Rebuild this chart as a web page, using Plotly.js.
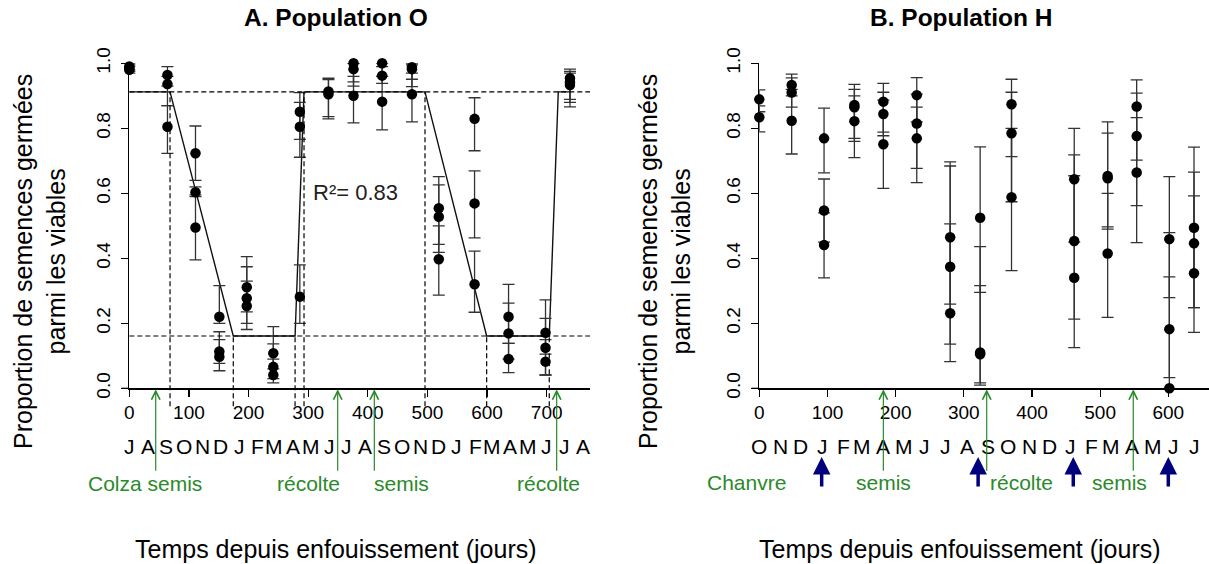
<!DOCTYPE html>
<html>
<head>
<meta charset="utf-8">
<script src="https://cdn.plot.ly/plotly-3.0.1.min.js"></script>
<style>html,body{margin:0;padding:0;background:#fff;}#chart{width:1209px;height:564px;}</style>
</head>
<body>
<div id="chart"></div>
<script>
// ---------- Panel A : Population O ----------
const xO  = [0,0,0, 64,64,64, 111,111,111, 151,151,151, 197,197,197, 241.5,241.5,241.5, 286,286,286, 334,334, 376,376,376, 424,424,424, 474,474,474, 519,519,519, 579,579,579, 636,636,636, 698,698,698, 739,739,739];
const yO  = [0.99,0.985,0.98, 0.964,0.936,0.805, 0.723,0.603,0.495, 0.22,0.113,0.097, 0.311,0.277,0.253, 0.108,0.066,0.041, 0.851,0.805,0.282, 0.913,0.905, 1.0,0.982,0.9, 1.0,0.962,0.882, 0.988,0.982,0.905, 0.554,0.528,0.397, 0.829,0.569,0.32, 0.22,0.169,0.09, 0.171,0.125,0.082, 0.954,0.942,0.933];
const hiO = [1.0,0.995,0.99, 0.99,0.96,0.87, 0.807,0.62,0.595, 0.316,0.174,0.15, 0.405,0.374,0.33, 0.19,0.137,0.09, 0.91,0.88,0.38, 0.954,0.95, 1.0,1.0,0.96, 1.0,0.99,0.96, 1.0,0.995,0.97, 0.651,0.626,0.5, 0.894,0.669,0.422, 0.32,0.262,0.138, 0.272,0.215,0.15, 0.982,0.975,0.97];
const loO = [0.98,0.975,0.97, 0.93,0.87,0.723, 0.64,0.59,0.395, 0.2,0.077,0.054, 0.235,0.2,0.181, 0.06,0.03,0.017, 0.766,0.711,0.2, 0.836,0.829, 0.943,0.93,0.817, 0.96,0.938,0.795, 0.951,0.928,0.82, 0.443,0.418,0.287, 0.731,0.463,0.234, 0.138,0.09,0.048, 0.105,0.041,0.041, 0.889,0.866,0.88];
// fitted piecewise model
const fitX = [0, 68.3, 174.4, 278, 293, 495.9, 599.3, 704.3, 719.4, 739];
const fitY = [0.912, 0.912, 0.161, 0.161, 0.912, 0.912, 0.161, 0.161, 0.912, 0.912];
const levels = [0.912, 0.161];
const breakX = [68.3, 174.4, 278, 293, 495.9, 599.3, 704.3];
const breakY = [0.912, 0.161, 0.161, 0.912, 0.912, 0.161, 0.161];
const monthsO = ["J","A","S","O","N","D","J","F","M","A","M","J","J","A","S","O","N","D","J","F","M","A","M","J","J","A"];
const monthPosO = [0,31,62,92,123,153,184,215,243,274,304,335,365,396,427,457,488,518,549,580,608,639,669,700,730,761];
const eventsOx = [44.3, 349.5, 410.9, 716.7];
const eventLabelsO = ["Colza semis","récolte","semis","récolte"];
const eventLabelPxO = [145, 308, 401, 548];

// ---------- Panel B : Population H ----------
const xH  = [0,0, 47.5,47.5,47.5, 95,95,95, 139.5,139.5,139.5, 182,182,182, 231,231,231, 280,280,280, 324,324,324, 370,370,370, 462,462,462, 511,511,511, 553.6,553.6,553.6, 601.5,601.5,601.5, 637.7,637.7,637.7];
const yH  = [0.889,0.834, 0.933,0.91,0.823, 0.769,0.547,0.441, 0.872,0.865,0.822, 0.882,0.844,0.751, 0.902,0.815,0.769, 0.465,0.374,0.231, 0.525,0.11,0.105, 0.874,0.785,0.588, 0.643,0.453,0.34, 0.653,0.646,0.415, 0.867,0.776,0.664, 0.459,0.182,0.0, 0.494,0.446,0.354];
const hiH = [0.918,0.869, 0.967,0.955,0.92, 0.862,0.644,0.54, 0.935,0.92,0.9, 0.938,0.911,0.887, 0.956,0.865,0.905, 0.697,0.684,0.506, 0.743,0.436,0.316, 0.951,0.911,0.8, 0.8,0.718,0.654, 0.82,0.785,0.6, 0.949,0.908,0.833, 0.651,0.479,0.343, 0.742,0.665,0.592];
const loH = [0.851,0.789, 0.9,0.865,0.721, 0.663,0.45,0.34, 0.769,0.76,0.71, 0.788,0.777,0.615, 0.82,0.677,0.633, 0.259,0.136,0.082, 0.295,0.017,0.01, 0.713,0.574,0.362, 0.45,0.213,0.125, 0.497,0.49,0.218, 0.702,0.562,0.448, 0.279,0.033,0.0, 0.248,0.248,0.172];
const monthsH = ["O","N","D","J","F","M","A","M","J","J","A","S","O","N","D","J","F","M","A","M","J","J"];
const monthPosH = [0,31,61,92,123,151,182,212,243,273,304,335,365,396,426,457,488,516,547,577,608,638];
const greenHx = [182, 333.6, 548.6];
const blueHx = [91.5, 321, 460.6, 600];
const eventLabelsH = ["Chanvre","semis","récolte","semis"];
const eventLabelPxH = [746, 883, 1021, 1119.5];

const yTicks = [0,0.2,0.4,0.6,0.8,1.0];
const yTickText = ["0.0","0.2","0.4","0.6","0.8","1.0"];
const xTicksO = [0,100,200,300,400,500,600,700];
const xTicksH = [0,100,200,300,400,500,600];

// ---------- layout geometry ----------
const W = 1209, H = 564;
const FONT = "Liberation Sans, Arial, sans-serif";
const green = "#2a8a2a", navy = "#00007f";
const py = p => 1 - p / H;   // pixel row -> paper y
const px = p => p / W;       // pixel col -> paper x

function errTrace(x, y, hi, lo, xa, ya) {
  return {
    x: x, y: y, xaxis: xa, yaxis: ya, type: 'scatter', mode: 'markers',
    marker: {color: '#000', size: 10.5},
    cliponaxis: false,
    error_y: {type: 'data', symmetric: false,
      array: hi.map((h, i) => h - y[i]),
      arrayminus: lo.map((l, i) => y[i] - l),
      color: '#333', thickness: 1.3, width: 6},
    hoverinfo: 'x+y', showlegend: false
  };
}

const traces = [
  {x: fitX, y: fitY, xaxis: 'x', yaxis: 'y', type: 'scatter', mode: 'lines',
   line: {color: '#111', width: 1.4}, showlegend: false, hoverinfo: 'skip'},
  errTrace(xO, yO, hiO, loO, 'x', 'y'),
  errTrace(xH, yH, hiH, loH, 'x2', 'y2')
];

const shapes = [];
levels.forEach(v => shapes.push({type: 'line', xref: 'x domain', yref: 'y', x0: 0, x1: 1, y0: v, y1: v,
  line: {color: '#000', width: 1.2, dash: '5px,3px'}}));
breakX.forEach((b, i) => shapes.push({type: 'line', xref: 'x', yref: 'y domain', x0: b, x1: b, y0: -0.055, y1: breakY[i],
  line: {color: '#000', width: 1.2, dash: '5px,3px'}}));
// small axis-line extensions left of the y axis (R-style box)
[['x domain','y domain'],['x2 domain','y2 domain']].forEach(r => shapes.push({type:'line', xref:r[0], yref:r[1],
  x0: -0.017, x1: 0, y0: 0, y1: 0, line:{color:'#000', width:1.2}}));

const ann = [];
const baseFont = {family: FONT, color: '#000'};
function paperText(t, x, y, size, extra) {
  return Object.assign({text: t, xref: 'paper', yref: 'paper', x: px(x), y: py(y), xanchor: 'center', yanchor: 'middle',
    showarrow: false, font: Object.assign({}, baseFont, {size: size})}, extra || {});
}
ann.push(paperText('<b>A. Population O</b>', 336, 18, 24.5));
ann.push(paperText('<b>B. Population H</b>', 961, 18, 24.5));
ann.push(paperText('Temps depuis enfouissement (jours)', 336, 549, 25));
ann.push(paperText('Temps depuis enfouissement (jours)', 960, 549, 25));
ann.push(paperText('Proportion de semences germées<br>parmi les viables', 39, 262, 25, {textangle: -90}));
ann.push(paperText('Proportion de semences germées<br>parmi les viables', 664, 262, 25, {textangle: -90}));
ann.push({text: 'R²= 0.83', xref: 'x', yref: 'y', x: 380, y: 0.601, xanchor: 'center', yanchor: 'middle', showarrow: false,
  font: {family: FONT, color: '#222', size: 22}});

monthsO.forEach((m, i) => ann.push({text: m, xref: 'x', yref: 'paper', x: monthPosO[i], y: py(446),
  xanchor: 'center', yanchor: 'middle', showarrow: false, font: Object.assign({}, baseFont, {size: 21})}));
monthsH.forEach((m, i) => ann.push({text: m, xref: 'x2', yref: 'paper', x: monthPosH[i], y: py(446),
  xanchor: 'center', yanchor: 'middle', showarrow: false, font: Object.assign({}, baseFont, {size: 21})}));

eventLabelsO.forEach((t, i) => ann.push(paperText(t, eventLabelPxO[i], 483, 21, {font: {family: FONT, color: green, size: 21}})));
eventLabelsH.forEach((t, i) => ann.push(paperText(t, eventLabelPxH[i], 482, 21, {font: {family: FONT, color: green, size: 21}})));

function greenArrow(xv, xr, yr) {
  return {text: '', xref: xr, yref: yr, x: xv, y: 0, ax: 0, ay: 84, showarrow: true,
    arrowhead: 5, arrowsize: 1.4, arrowwidth: 1.2, arrowcolor: green, standoff: 1};
}
eventsOx.forEach(v => ann.push(greenArrow(v, 'x', 'y')));
greenHx.forEach(v => ann.push(greenArrow(v, 'x2', 'y2')));
blueHx.forEach(v => ann.push({text: '', xref: 'x2', yref: 'paper', x: v, y: py(457), ax: 0, ay: 31, showarrow: true,
  arrowhead: 2, arrowsize: 1, arrowwidth: 3.5, arrowcolor: navy}));

const axisCommon = {showgrid: false, zeroline: false, showline: true, linecolor: '#000', linewidth: 1.2,
  ticks: 'outside', ticklen: 7, tickwidth: 1.2, tickcolor: '#000', fixedrange: true,
  tickfont: {family: FONT, size: 19, color: '#000'}};
const yDom = [py(388.3), py(63.3)];

const layout = {
  width: W, height: H, margin: {l: 0, r: 0, t: 0, b: 0},
  paper_bgcolor: '#fff', plot_bgcolor: 'rgba(0,0,0,0)', showlegend: false,
  xaxis: Object.assign({}, axisCommon, {domain: [px(129.3), px(590)], range: [0, 772.6], anchor: 'y',
    tickmode: 'array', tickvals: xTicksO, ticktext: xTicksO.map(String)}),
  yaxis: Object.assign({}, axisCommon, {domain: yDom, range: [0, 1], anchor: 'x',
    tickmode: 'array', tickvals: yTicks, ticktext: yTickText, tickangle: -90, ticklabelstandoff: 4}),
  xaxis2: Object.assign({}, axisCommon, {domain: [px(759.3), 1], range: [0, 659.7], anchor: 'y2',
    tickmode: 'array', tickvals: xTicksH, ticktext: xTicksH.map(String)}),
  yaxis2: Object.assign({}, axisCommon, {domain: yDom, range: [0, 1], anchor: 'x2',
    tickmode: 'array', tickvals: yTicks, ticktext: yTickText, tickangle: -90, ticklabelstandoff: 4}),
  shapes: shapes, annotations: ann
};

Plotly.newPlot('chart', traces, layout, {displayModeBar: false, staticPlot: true});
</script>
</body>
</html>
